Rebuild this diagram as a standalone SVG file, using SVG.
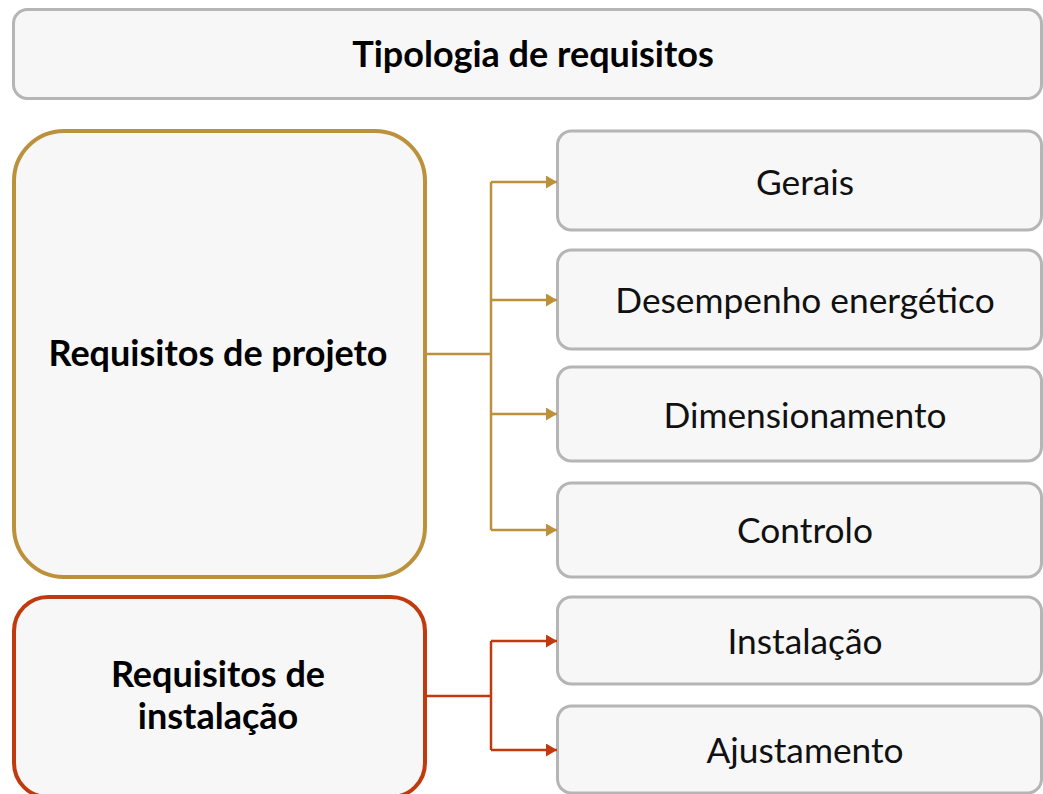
<svg xmlns="http://www.w3.org/2000/svg" width="1043" height="794" viewBox="0 0 1043 794">
<defs>
<style>
.box{fill:#f7f7f7;stroke:#b5b5b5;stroke-width:3}
.gold{fill:#f7f7f7;stroke:#bb913c;stroke-width:4}
.red{fill:#f7f7f7;stroke:#c03a0e;stroke-width:4}
.cg{fill:none;stroke:#bb913c;stroke-width:2.5}
.cr{fill:none;stroke:#c03a0e;stroke-width:2.5}
.b{font-family:Lato,"Liberation Sans",sans-serif;font-weight:bold;font-size:36px;fill:#000;text-anchor:middle}
.r{font-family:Lato,"Liberation Sans",sans-serif;font-size:35.3px;fill:#111;text-anchor:middle}
</style>
<marker id="ag" viewBox="0 0 11 13" refX="11" refY="6.5" markerWidth="11" markerHeight="13" markerUnits="userSpaceOnUse" orient="auto"><path d="M0,0 L11,6.5 L0,13 Z" fill="#bb913c"/></marker>
<marker id="ar" viewBox="0 0 11 13" refX="11" refY="6.5" markerWidth="11" markerHeight="13" markerUnits="userSpaceOnUse" orient="auto"><path d="M0,0 L11,6.5 L0,13 Z" fill="#c03a0e"/></marker>
</defs>
<rect width="1043" height="794" fill="#fff"/>
<g id="title"><rect class="box" x="13.5" y="9.5" width="1028" height="89" rx="14"/><text class="b" x="533" y="67">Tipologia de requisitos</text></g>
<g id="projeto"><rect class="gold" x="14" y="131" width="411" height="446" rx="50"/><text class="b" x="218" y="366">Requisitos de projeto</text></g>
<g id="instalacao"><rect class="red" x="14" y="597" width="411" height="200" rx="34"/><text class="b" x="218" y="687">Requisitos de</text><text class="b" x="218" y="729">instalação</text></g>
<g id="gerais"><rect class="box" x="557.5" y="131" width="484" height="99" rx="14"/><text class="r" x="805" y="195">Gerais</text></g>
<g id="desempenho"><rect class="box" x="557.5" y="250" width="484" height="99" rx="14"/><text class="r" x="805" y="313">Desempenho energético</text></g>
<g id="dimensionamento"><rect class="box" x="557.5" y="367" width="484" height="94" rx="14"/><text class="r" x="805" y="428">Dimensionamento</text></g>
<g id="controlo"><rect class="box" x="557.5" y="483" width="484" height="94" rx="14"/><text class="r" x="805" y="543">Controlo</text></g>
<g id="instal"><rect class="box" x="557.5" y="597" width="484" height="87" rx="14"/><text class="r" x="805" y="654">Instalação</text></g>
<g id="ajustamento"><rect class="box" x="557.5" y="706" width="484" height="87" rx="14"/><text class="r" x="805" y="763">Ajustamento</text></g>
<g id="connectors">
<path class="cg" d="M425,354 H491"/>
<path class="cg" d="M491,182 V530"/>
<path class="cg" d="M491,182 H557" marker-end="url(#ag)"/>
<path class="cg" d="M491,300 H557" marker-end="url(#ag)"/>
<path class="cg" d="M491,414 H557" marker-end="url(#ag)"/>
<path class="cg" d="M491,530 H557" marker-end="url(#ag)"/>
<path class="cr" d="M425,696 H491"/>
<path class="cr" d="M491,641 V750"/>
<path class="cr" d="M491,641 H557" marker-end="url(#ar)"/>
<path class="cr" d="M491,750 H557" marker-end="url(#ar)"/>
</g>
</svg>
